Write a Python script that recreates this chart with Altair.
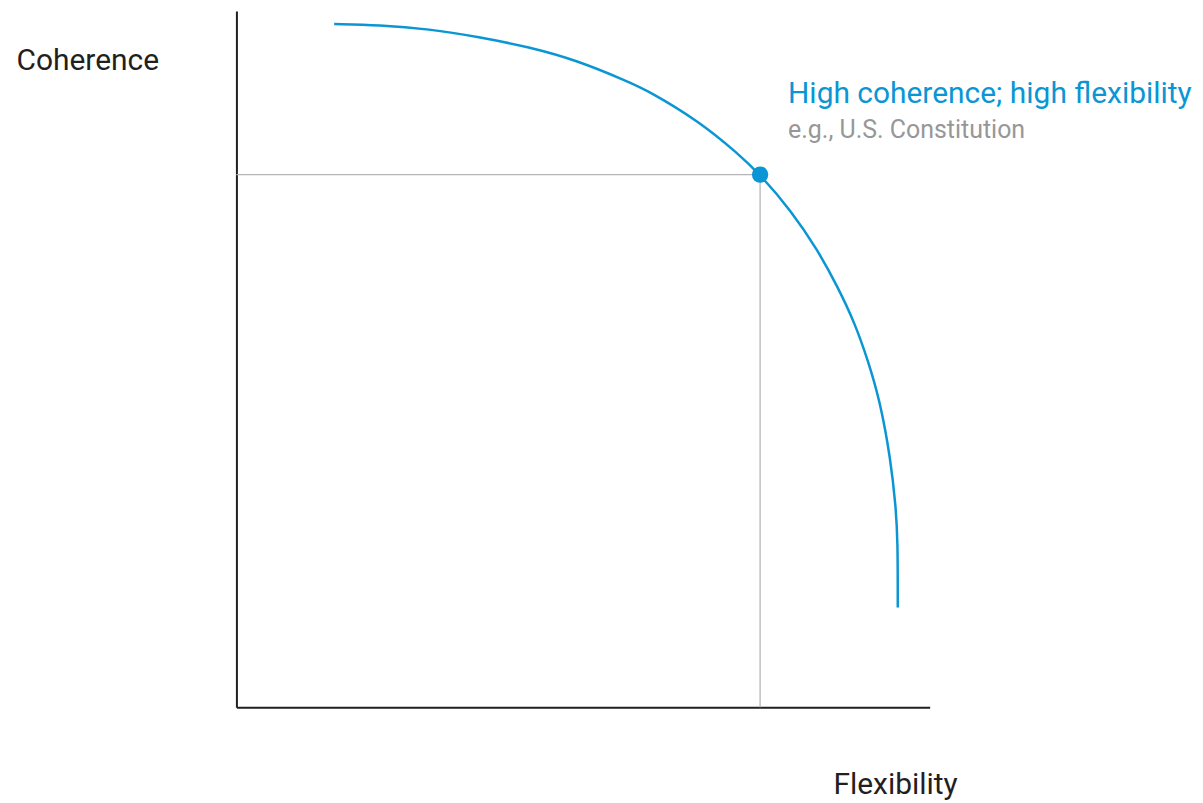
import altair as alt
import pandas as pd

# Frontier curve (x = flexibility, y = coherence)
curve_x = [98, 143, 193, 243, 293, 343, 393, 413, 463, 503, 525, 556, 583, 603, 620, 633, 645, 656, 661, 663, 663]
curve_y = [685, 684, 680, 672, 662, 648, 627, 618, 588, 555, 534, 498, 458, 421, 385, 348, 308, 248, 201, 168, 100]

# Highlighted point
point_x = [525]
point_y = [534]
point_label = ["High coherence; high flexibility"]
point_note = ["e.g., U.S. Constitution"]

x_label = "Flexibility"
y_label = "Coherence"

FONT = "Roboto"
BLUE = "#0a96d4"
DARK = "#231f20"
GRAY_TEXT = "#979797"
GRAY_LINE = "#b5b5b5"

curve = pd.DataFrame({"x": curve_x, "y": curve_y, "i": list(range(len(curve_x)))})
pt = pd.DataFrame({"x": point_x, "y": point_y, "x0": [0] * len(point_x), "y0": [0] * len(point_y),
                   "label": point_label, "note": point_note})

xs = alt.Scale(domain=[0, 695], nice=False, zero=False)
ys = alt.Scale(domain=[0, 698], nice=False, zero=False)

xaxis = alt.Axis(ticks=False, labels=False, grid=False, domainColor=DARK, domainWidth=2,
                 title=x_label, titleFont=FONT, titleFontSize=30, titleFontWeight="normal",
                 titleColor=DARK, titleAlign="left", titleBaseline="middle",
                 titleX=598, titleY=77, titleAnchor="start")
yaxis = alt.Axis(ticks=False, labels=False, grid=False, domainColor=DARK, domainWidth=2,
                 title=y_label, titleFont=FONT, titleFontSize=30, titleFontWeight="normal",
                 titleColor=DARK, titleAngle=0, titleAlign="left", titleBaseline="middle",
                 titleX=-221, titleY=50, titleAnchor="start")

base_pt = alt.Chart(pt)

h_guide = base_pt.mark_rule(color=GRAY_LINE, strokeWidth=1.3).encode(
    x=alt.X("x0:Q", scale=xs, axis=xaxis), x2="x:Q",
    y=alt.Y("y:Q", scale=ys, axis=yaxis))
v_guide = base_pt.mark_rule(color=GRAY_LINE, strokeWidth=1.3).encode(
    x=alt.X("x:Q", scale=xs), y=alt.Y("y0:Q", scale=ys), y2="y:Q")

line = alt.Chart(curve).mark_line(color=BLUE, strokeWidth=2.5, interpolate="basis").encode(
    x=alt.X("x:Q", scale=xs), y=alt.Y("y:Q", scale=ys), order="i:Q")

dot = base_pt.mark_circle(color=BLUE, size=270, opacity=1).encode(
    x=alt.X("x:Q", scale=xs), y=alt.Y("y:Q", scale=ys))

label = base_pt.mark_text(align="left", baseline="middle", dx=28, dy=-81, font=FONT,
                          fontSize=30, color=BLUE).encode(
    x=alt.X("x:Q", scale=xs), y=alt.Y("y:Q", scale=ys), text="label:N")
note = base_pt.mark_text(align="left", baseline="middle", dx=28, dy=-45, font=FONT,
                         fontSize=25, color=GRAY_TEXT).encode(
    x=alt.X("x:Q", scale=xs), y=alt.Y("y:Q", scale=ys), text="note:N")

chart = alt.layer(h_guide, v_guide, line, dot, label, note).properties(
    width=695, height=698,
    padding={"left": 229, "top": 2, "right": 266, "bottom": 95},
    autosize=alt.AutoSizeParams(type="none"),
    background="white",
).configure_view(strokeWidth=0)

chart.save("out.html", embed_options={"renderer": "svg", "actions": False})
